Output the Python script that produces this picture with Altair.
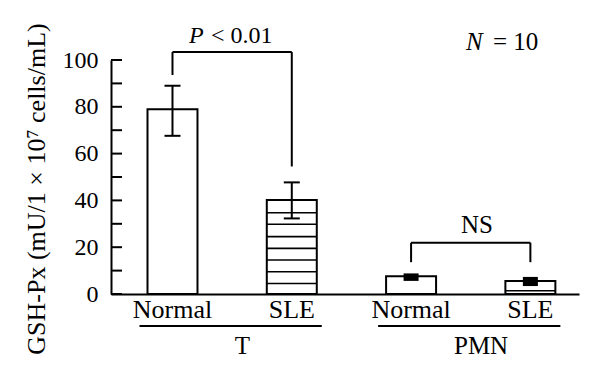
import altair as alt
import pandas as pd

FONT = "Liberation Serif"

# ---- data ----
categories = ["T|Normal", "T|SLE", "PMN|Normal", "PMN|SLE"]
groups = ["T", "T", "PMN", "PMN"]
means = [79.0, 40.2, 7.6, 5.6]
err_low = [67.6, 32.3, 5.6, 3.4]
err_high = [89.0, 47.7, 8.8, 7.3]
err_style = ["cap", "cap", "box", "box"]

stripe_cats = ["T|SLE"] * 7 + ["PMN|SLE"]
stripe_levels = [4.5, 9.5, 14.5, 19.5, 24.5, 29.8, 34.7, 1.4]

y_tick_values = [0, 10, 20, 30, 40, 50, 60, 70, 80, 90, 100]
y_label_values = [0, 20, 40, 60, 80, 100]

bracket_from = ["T|Normal", "PMN|Normal"]
bracket_to = ["T|SLE", "PMN|SLE"]
bracket_level = [103.4, 21.9]
bracket_left_end = [93.6, 13.6]
bracket_right_end = [54.5, 13.6]

group_names = ["T", "PMN"]
group_first = ["T|Normal", "PMN|Normal"]
group_last = ["T|SLE", "PMN|SLE"]

bars = pd.DataFrame({"cat": categories, "group": groups, "mean": means,
                     "lo": err_low, "hi": err_high, "style": err_style})
stripes = pd.DataFrame({"cat": stripe_cats, "level": stripe_levels})
yticks = pd.DataFrame({"v": y_tick_values})
brk = pd.DataFrame({"cat": bracket_from, "cat_end": bracket_to, "level": bracket_level,
                    "left_end": bracket_left_end, "right_end": bracket_right_end})
grp = pd.DataFrame({"name": group_names, "cat": group_first, "cat_end": group_last})
one = pd.DataFrame({"a": [0]})

W, H = 468, 234

xscale = alt.Scale(domain=categories, paddingInner=0.581, paddingOuter=0.252, align=0.607)
yscale = alt.Scale(domain=[0, 100], nice=False, zero=True)

xaxis = alt.Axis(title=None, ticks=False, domain=True, domainColor="black", domainWidth=2,
                 labelExpr="split(datum.label, '|')[1]", labelAngle=0, labelFont=FONT,
                 labelFontSize=26, labelColor="black", labelPadding=2, grid=False)
yaxis = alt.Axis(title=None, ticks=False, domain=True, domainColor="black", domainWidth=2,
                 values=y_label_values, labelFont=FONT, labelFontSize=24, labelColor="black",
                 labelPadding=13, grid=False)


def X(field="cat", **kw):
    return alt.X(f"{field}:N", scale=xscale, axis=xaxis, sort=categories, title=None, **kw)


def Y(field):
    return alt.Y(f"{field}:Q", scale=yscale, axis=yaxis, title=None)


bar_layer = alt.Chart(bars).mark_bar(fill="white", stroke="black", strokeWidth=2).encode(
    x=X(), y=Y("mean")
)

stripe_layer = alt.Chart(stripes).mark_tick(color="black", size=50, thickness=1.6, opacity=1).encode(
    x=X(), y=Y("level")
)

cap_data = alt.Chart(bars).transform_filter(alt.datum.style == "cap")
err_rule = cap_data.mark_rule(color="black", strokeWidth=2).encode(
    x=X(), y=Y("lo"), y2="hi:Q"
)
cap_lo = cap_data.mark_tick(color="black", size=16, thickness=2, opacity=1).encode(x=X(), y=Y("lo"))
cap_hi = cap_data.mark_tick(color="black", size=16, thickness=2, opacity=1).encode(x=X(), y=Y("hi"))

box_layer = alt.Chart(bars).transform_filter(alt.datum.style == "box").mark_bar(
    color="black", width=15).encode(x=X(), y=Y("lo"), y2="hi:Q")

ytick_layer = alt.Chart(yticks).mark_rule(color="black", strokeWidth=2).encode(
    x=alt.value(0), x2=alt.value(11), y=Y("v")
)

br_h = alt.Chart(brk).mark_rule(color="black", strokeWidth=2).encode(
    x=X(), x2="cat_end:N", y=Y("level")
)
br_l = alt.Chart(brk).mark_rule(color="black", strokeWidth=2).encode(
    x=X(), y=Y("left_end"), y2="level:Q"
)
br_r = alt.Chart(brk).mark_rule(color="black", strokeWidth=2).encode(
    x=X("cat_end"), y=Y("right_end"), y2="level:Q"
)

underline = alt.Chart(grp).mark_rule(color="black", strokeWidth=2, xOffset=-8, x2Offset=5).encode(
    x=X(bandPosition=0), x2=alt.X2("cat_end:N", bandPosition=1), y=alt.value(266)
)
group_text = alt.Chart(grp).mark_text(font=FONT, fontSize=25, color="black", dx=70,
                                      align="center", baseline="alphabetic").encode(
    x=X(), y=alt.value(294), text="name:N"
)


def txt(s, x, y, size=24, italic=False, align="left", angle=None):
    kw = dict(font=FONT, fontSize=size, color="black", align=align, baseline="alphabetic")
    if italic:
        kw["fontStyle"] = "italic"
    if angle is not None:
        kw["angle"] = angle
    return alt.Chart(one).mark_text(**kw).encode(x=alt.value(x), y=alt.value(y), text=alt.value(s))


ann = [
    txt("P", 78, -16.7, size=24, italic=True),
    txt("< 0.01", 100, -16.7, size=24),
    txt("N", 355, -10, size=25, italic=True),
    txt("= 10", 382, -10, size=25),
    txt("NS", 366, 172.7, size=25, align="center"),
    txt("GSH-Px (mU/1 × 10⁷ cells/mL)", -66, 129, size=26, align="center", angle=270),
]

chart = alt.layer(
    bar_layer, stripe_layer, err_rule, cap_lo, cap_hi, box_layer, ytick_layer,
    br_h, br_l, br_r, underline, group_text, *ann
).properties(
    width=W, height=H,
    background="white",
    autosize=alt.AutoSizeParams(type="none"),
    padding={"left": 103, "top": 52, "right": 10, "bottom": 75},
).configure_view(stroke=None)

chart.save("out.html", embed_options={"renderer": "svg", "actions": False})
